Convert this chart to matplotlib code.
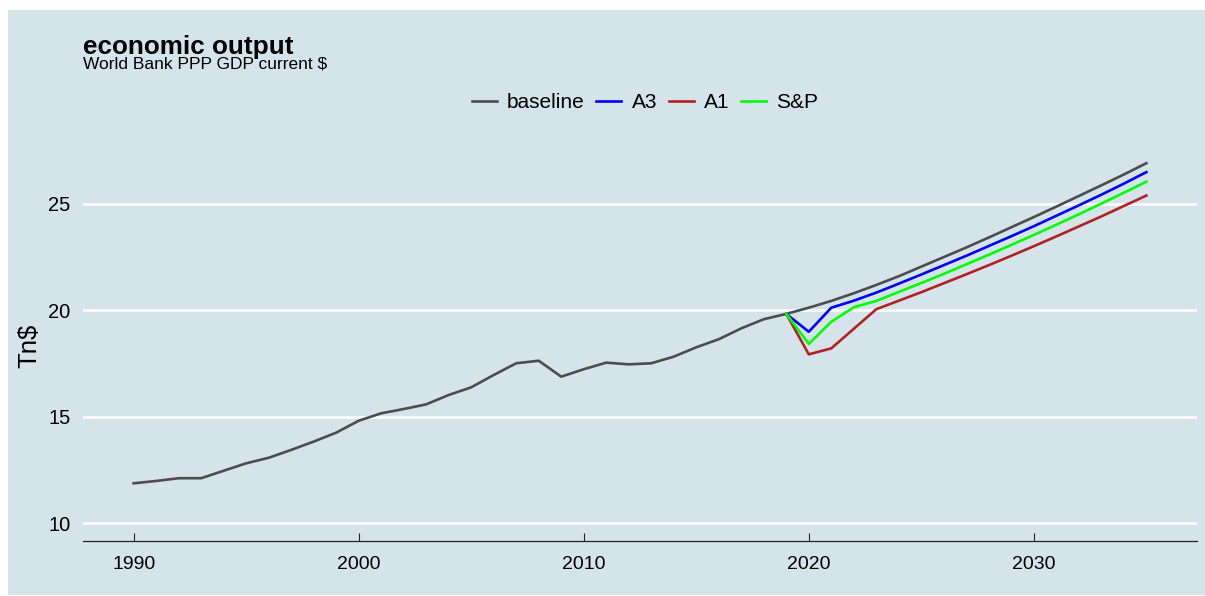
import matplotlib
matplotlib.use("Agg")
import matplotlib.pyplot as plt
from matplotlib.patches import Rectangle

plt.rcParams['font.family'] = ['Liberation Sans', 'DejaVu Sans']

# historic + baseline projection (Tn$)
years = list(range(1990, 2036))
baseline = [11.87, 11.98, 12.11, 12.11, 12.46, 12.81, 13.07, 13.44, 13.83, 14.25,
            14.81, 15.16, 15.36, 15.58, 16.02, 16.38, 16.96, 17.51, 17.63, 16.88,
            17.23, 17.54, 17.46, 17.51, 17.82, 18.26, 18.64, 19.15, 19.58, 19.83,
            20.12, 20.44, 20.80, 21.19, 21.60, 22.05, 22.50, 22.95, 23.42, 23.90,
            24.38, 24.87, 25.37, 25.87, 26.38, 26.91]

# scenarios from 2019 on
scen_years = list(range(2019, 2036))
a3 = [19.83, 18.99, 20.12, 20.45, 20.83, 21.25, 21.68, 22.12, 22.56, 23.02,
      23.48, 23.95, 24.44, 24.93, 25.43, 25.95, 26.49]
a1 = [19.83, 17.93, 18.21, 19.13, 20.05, 20.45, 20.85, 21.27, 21.69, 22.12,
      22.56, 23.01, 23.47, 23.94, 24.41, 24.90, 25.39]
sp = [19.83, 18.42, 19.46, 20.14, 20.44, 20.86, 21.28, 21.71, 22.16, 22.61,
      23.07, 23.54, 24.02, 24.51, 25.01, 25.52, 26.04]

bg = '#d5e4eb'
W, H = 1205, 596

fig = plt.figure(figsize=(W / 100, H / 100), dpi=100, facecolor='white')
fig.patches.append(Rectangle((8 / W, 1 / H), 1 - 8 / W, 1 - 11 / H,
                             transform=fig.transFigure, facecolor=bg,
                             edgecolor='none', zorder=-10))

ax = fig.add_axes([83 / W, 1 - 541 / H, (1197 - 83) / W, (541 - 150) / H])
ax.set_facecolor(bg)

ax.plot(years, baseline, color='#4d4d4d', lw=1.9, label='baseline', zorder=3)
ax.plot(scen_years, a3, color='#0000ff', lw=1.9, label='A3', zorder=4)
ax.plot(scen_years, a1, color='#b22222', lw=1.9, label='A1', zorder=4)
ax.plot(scen_years, sp, color='#00ff00', lw=1.9, label='S&P', zorder=4)

ax.set_xlim(1987.75, 2037.25)
ax.set_ylim(9.16, 27.53)
ax.set_xticks([1990, 2000, 2010, 2020, 2030])
ax.set_yticks([10, 15, 20, 25])
ax.grid(axis='y', color='white', lw=1.9)
ax.grid(axis='x', visible=False)
ax.set_axisbelow(True)

for s in ['top', 'right', 'left']:
    ax.spines[s].set_visible(False)
ax.spines['bottom'].set_color('#222222')
ax.spines['bottom'].set_linewidth(0.9)

ax.tick_params(axis='x', direction='in', length=6, width=0.8, color='#222222',
               labelsize=14, pad=11)
ax.tick_params(axis='y', length=0, labelsize=14.5, pad=9)

ax.set_ylabel('Tn$', fontsize=18.5, labelpad=5)

fig.text(83 / W, 1 - 54 / H, 'economic output', fontsize=18.8,
         fontweight='bold', va='baseline', ha='left')
fig.text(83 / W, 1 - 69 / H, 'World Bank PPP GDP current $', fontsize=12.5,
         va='baseline', ha='left')

ax.legend(loc='center', bbox_to_anchor=(645 / W, 1 - 103 / H),
          bbox_transform=fig.transFigure, ncol=4, frameon=False,
          fontsize=15, handlelength=1.2, handletextpad=0.5,
          columnspacing=0.55)

fig.savefig('out.png', dpi=100, facecolor='white')
